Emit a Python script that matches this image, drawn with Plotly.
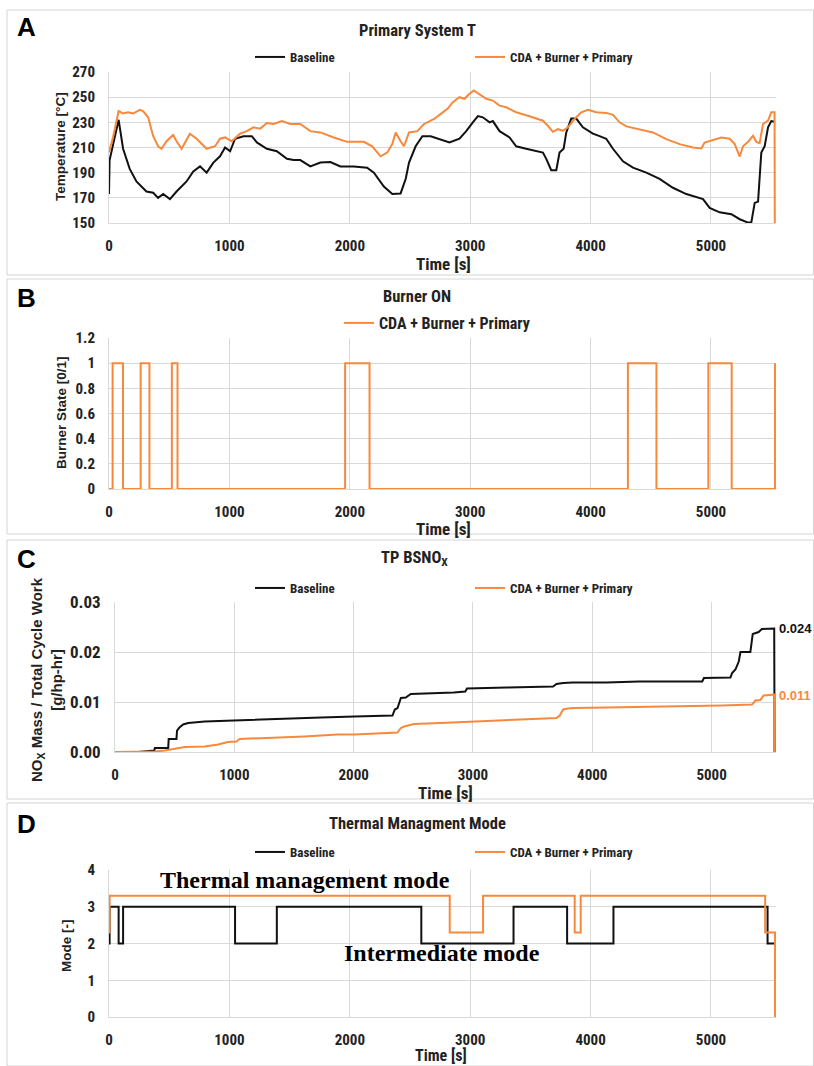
import plotly.graph_objects as go

# ---------------- DATA ----------------
# Panel A: Primary System T
a_time_base = [0, 5, 40, 80, 117, 172, 228, 311, 367, 408, 450, 506, 561, 644, 700, 756, 811, 867, 922, 964,
               1006, 1047, 1117, 1186, 1228, 1311, 1394, 1478, 1533, 1589, 1672, 1756, 1839, 1922, 2033, 2144,
               2200, 2283, 2353, 2422, 2464, 2492, 2547, 2603, 2672, 2728, 2828, 2911, 2967, 3022, 3064, 3105,
               3161, 3188, 3244, 3327, 3382, 3465, 3548, 3604, 3632, 3673, 3715, 3742, 3776, 3798, 3839, 3881,
               3936, 4019, 4075, 4130, 4186, 4269, 4352, 4463, 4573, 4684, 4795, 4934, 4989, 5072, 5169, 5239,
               5308, 5335, 5363, 5391, 5418, 5446, 5474, 5501, 5530]
a_temp_base = [173, 200, 215, 232, 209, 193, 183, 175, 174, 170, 173, 169, 175, 183, 191, 195, 190, 198, 203, 210,
               207, 217, 219, 219, 214, 209, 207, 201, 200, 200, 195, 198, 198.5, 195, 195, 194,
               190, 179, 173, 173.5, 185, 198, 211, 219, 219, 217, 214, 217, 223, 230, 235, 234,
               230, 231, 223, 218, 211, 209, 207, 206, 201, 192, 192, 206, 209, 222, 233, 233,
               226, 221, 219, 217, 209, 199, 194, 190, 185, 178, 173, 169, 162, 158.5, 157, 153,
               150.3, 150.5, 166, 167, 206, 211, 226, 231, 230.5]
a_time_cda = [0, 33, 80, 117, 158, 200, 256, 283, 325, 367, 408, 436, 478, 533, 561, 603, 672, 728, 811, 881,
              922, 964, 1019, 1089, 1144, 1200, 1256, 1311, 1367, 1436, 1506, 1589, 1672, 1756, 1867, 1978,
              2117, 2186, 2256, 2311, 2353, 2381, 2422, 2450, 2492, 2561, 2617, 2700, 2756, 2811, 2856, 2911,
              2953, 2994, 3030, 3078, 3133, 3188, 3244, 3299, 3382, 3493, 3604, 3645, 3687, 3729, 3770, 3812,
              3867, 3922, 3978, 4047, 4130, 4186, 4241, 4297, 4407, 4518, 4629, 4740, 4850, 4920, 4947, 5017,
              5086, 5155, 5197, 5239, 5266, 5308, 5349, 5377, 5404, 5432, 5474, 5501, 5528, 5530]
a_temp_cda = [206, 218, 239, 237, 238, 237, 240, 239, 234, 219, 211, 209, 215, 220, 215, 209, 221, 217, 209, 211,
              217, 218, 215, 221, 223, 226, 225, 229.5, 228.7, 231, 228.7, 228.7, 223, 222, 218, 214.5,
              214.5, 211, 203, 206, 212.7, 222, 215, 211, 222, 223, 228.7, 232.7, 236.7, 240.7, 246, 250,
              248.7, 252.7, 255.3, 252, 248.7, 247.3, 243.3, 242, 238, 234.8, 231.3, 227.3, 222.5, 224.7, 223.3, 226,
              232.7, 238, 240, 238, 237.5, 236, 230, 226.8, 224.7, 222, 216.7, 212.7, 210, 209.2, 214, 216,
              218, 217, 212.7, 202.8, 211, 214.5, 219.3, 214.5, 213.5, 228.7, 231.3, 238, 238, 150]

# Panel B: Burner ON (state changes)
b_time = [0, 30, 116, 263, 336, 522, 569, 1961, 2164, 4310, 4547, 4978, 5172, 5532]
b_state = [0, 1, 0, 1, 0, 1, 0, 1, 0, 1, 0, 1, 0, 1]

# Panel C: TP BSNOx cumulative
c_time_base = [0, 195, 330, 334, 446, 450, 515, 520, 540, 571, 613, 752, 997, 1309, 1727, 2006, 2326, 2345,
               2368, 2396, 2437, 2479, 2702, 2839, 2936, 2950, 3283, 3672, 3700, 3756, 3839, 4117, 4394,
               4922, 4936, 5158, 5172, 5200, 5228, 5242, 5325, 5345, 5394, 5422, 5525, 5528]
c_nox_base = [0, 0, 0.0003, 0.0008, 0.0008, 0.0026, 0.0026, 0.0043, 0.0049, 0.0055, 0.0058, 0.0061, 0.0063,
              0.0066, 0.0069, 0.0071, 0.0073, 0.0085, 0.0088, 0.0108, 0.0109, 0.0116, 0.0117, 0.0119, 0.0121,
              0.0127, 0.0129, 0.0131, 0.0136, 0.0138, 0.0139, 0.0139, 0.0141, 0.0141, 0.0148, 0.0149, 0.0158,
              0.0165, 0.0181, 0.0200, 0.0200, 0.0236, 0.0240, 0.0246, 0.0247, 0]
c_time_cda = [0, 334, 418, 529, 585, 752, 864, 947, 1017, 1045, 1309, 1588, 1866, 2006, 2368, 2396, 2423, 2507,
              2728, 3000, 3283, 3672, 3700, 3728, 3756, 3797, 3839, 4117, 4672, 5089, 5339, 5367, 5408, 5436,
              5525, 5528]
c_nox_cda = [0, 0.0001, 0.0003, 0.0007, 0.0010, 0.0011, 0.0015, 0.0020, 0.0021, 0.0026, 0.0028, 0.0031, 0.0035,
             0.0035, 0.0039, 0.0048, 0.0051, 0.0056, 0.0058, 0.0061, 0.0063, 0.0067, 0.0068, 0.0073, 0.0085,
             0.0087, 0.0088, 0.0089, 0.0091, 0.0093, 0.0095, 0.0103, 0.0104, 0.0113, 0.0115, 0]
c_end_labels = ["0.024", "0.011"]
c_end_values = [0.0247, 0.0114]

# Panel D: Thermal management mode (state changes)
d_time_base = [0, 5, 80, 117, 1047, 1394, 2594, 3360, 3805, 4190, 5470, 5530]
d_mode_base = [2, 3, 2, 3, 2, 3, 2, 3, 2, 3, 2, 2]
d_time_cda = [0, 5, 2830, 3107, 3868, 3918, 5450, 5532]
d_mode_cda = [2.3, 3.3, 2.3, 3.3, 2.3, 3.3, 2.3, 0]

x_ticks = [0, 1000, 2000, 3000, 4000, 5000]
a_y_ticks = [150, 170, 190, 210, 230, 250, 270]
b_y_ticks = [0, 0.2, 0.4, 0.6, 0.8, 1, 1.2]
c_y_ticks = [0, 0.01, 0.02, 0.03]
d_y_ticks = [0, 1, 2, 3, 4]

# ---------------- STYLE ----------------
W, H = 814, 1066
def px(x):
    return x / W
def py(y):
    return 1 - y / H

BLACK = "#111111"
ORANGE = "#F7893C"
GRID = "#D9D9D9"
TXT = "#222222"
NARROW = "Liberation Sans Narrow, Arial Narrow, Roboto Condensed, Liberation Sans, sans-serif"
WIDE = "Liberation Sans, Arial, sans-serif"
SERIF = "Liberation Serif, Times New Roman, serif"
X_MAX = 5540

fig = go.Figure()

def line(x, y, color, name, xa, ya, leg, show=True, shape="linear"):
    fig.add_trace(go.Scatter(x=x, y=y, mode="lines", name=name,
                             line=dict(color=color, width=2, shape=shape),
                             xaxis=xa, yaxis=ya, legend=leg, showlegend=show,
                             hoverinfo="skip"))

line(a_time_base, a_temp_base, BLACK, "Baseline", "x", "y", "legend")
line(a_time_cda, a_temp_cda, ORANGE, "CDA + Burner + Primary", "x", "y", "legend")
line(b_time, b_state, ORANGE, "CDA + Burner + Primary", "x2", "y2", "legend2", shape="hv")
line(c_time_base, c_nox_base, BLACK, "Baseline", "x3", "y3", "legend3")
line(c_time_cda, c_nox_cda, ORANGE, "CDA + Burner + Primary", "x3", "y3", "legend3")
line(d_time_base, d_mode_base, BLACK, "Baseline", "x4", "y4", "legend4", shape="hv")
line(d_time_cda, d_mode_cda, ORANGE, "CDA + Burner + Primary", "x4", "y4", "legend4", shape="hv")

def xax(l, r, anchor, size=15):
    return dict(domain=[px(l), px(r)], anchor=anchor, range=[0, X_MAX], tickvals=x_ticks,
                showgrid=True, gridcolor=GRID, gridwidth=1, zeroline=False, automargin=False,
                showline=True, linecolor=GRID, linewidth=1, ticks="",
                ticklabelstandoff=9,
                tickfont=dict(family=NARROW, size=size, color=TXT, weight="bold"))

def yax(t, b, anchor, rng, ticks, size=15, fmt=None):
    d = dict(domain=[py(b), py(t)], anchor=anchor, range=rng, tickvals=ticks,
             showgrid=True, gridcolor=GRID, gridwidth=1, zeroline=False, automargin=False,
             showline=True, linecolor=GRID, linewidth=1, ticks="",
             ticklabelstandoff=10,
             tickfont=dict(family=NARROW, size=size, color=TXT, weight="bold"))
    if fmt:
        d["tickformat"] = fmt
    return d

def legend(x0, y0, size=13):
    return dict(orientation="h", x=px(x0), xanchor="left", y=py(y0), yanchor="middle",
                entrywidth=175, entrywidthmode="pixels", bgcolor="rgba(0,0,0,0)",
                font=dict(family=NARROW, size=size, color=TXT, weight="bold"))

fig.update_layout(
    width=W, height=H, margin=dict(l=0, r=0, t=0, b=0, autoexpand=False),
    paper_bgcolor="white", plot_bgcolor="white",
    xaxis=xax(109, 776, "y"), yaxis=yax(72, 223, "x", [150, 270.01], a_y_ticks),
    xaxis2=xax(109, 776, "y2"), yaxis2=yax(338, 489, "x2", [0, 1.2001], b_y_ticks),
    xaxis3=xax(115, 776, "y3"), yaxis3=yax(602, 752, "x3", [0, 0.03001], c_y_ticks, size=17, fmt=".2f"),
    xaxis4=xax(109, 776, "y4"), yaxis4=yax(870, 1017, "x4", [0, 4.001], d_y_ticks),
    legend=legend(250, 57), legend2=legend(339, 323, 16),
    legend3=legend(250, 588), legend4=legend(250, 852),
    showlegend=True,
)

# panel frames
frames = [(7, 10, 275), (7, 279, 534), (7, 540, 799), (7, 803, 1066)]
for x0, y0, y1 in frames:
    fig.add_shape(type="rect", xref="paper", yref="paper", x0=px(x0), x1=px(813.5),
                  y0=py(y1), y1=py(y0), line=dict(color="#D4D4D4", width=1), layer="below")

def ann(x, y, text, size, family=NARROW, color=TXT, weight="bold", angle=0, xanchor="center"):
    fig.add_annotation(x=px(x), y=py(y), xref="paper", yref="paper", text=text, showarrow=False,
                       textangle=angle, xanchor=xanchor, yanchor="middle",
                       font=dict(family=family, size=size, color=color, weight=weight))

# panel letters
for letter, y in [("A", 27), ("B", 298), ("C", 559), ("D", 824)]:
    ann(27, y, letter, 26, family=WIDE, color="#000000")

# titles
ann(417, 30, "Primary System T", 16.5)
ann(417, 296, "Burner ON", 16.5)
ann(414, 558, "TP BSNO<sub>X</sub>", 16.5)
ann(417, 823, "Thermal Managment Mode", 16.5)

# axis titles
ann(443, 264, "Time [s]", 17)
ann(443, 529, "Time [s]", 17)
ann(445, 793, "Time [s]", 17)
ann(441, 1055, "Time [s]", 16)
ann(60, 147, "Temperature [°C]", 13.5, family=WIDE, angle=-90)
ann(62, 413, "Burner State [0/1]", 13.5, family=WIDE, angle=-90)
ann(46, 680, "NO<sub>X</sub> Mass / Total Cycle Work<br>[g/hp-hr]", 15, family=WIDE, angle=-90)
ann(66, 946, "Mode [-]", 13.5, family=WIDE, angle=-90)

# end-value labels on panel C (sized to fit inside the page)
for lab, v, col in zip(c_end_labels, c_end_values, [BLACK, ORANGE]):
    fig.add_annotation(x=X_MAX, y=v, xref="x3", yref="y3", text=lab, showarrow=False,
                       xanchor="left", yanchor="middle", xshift=1,
                       font=dict(family=WIDE, size=13, color=col, weight="bold"))

# mode labels on panel D
ann(305, 880, "Thermal management mode", 24, family=SERIF, color="#000000")
ann(442, 953, "Intermediate mode", 24, family=SERIF, color="#000000")

PIN_PAGE = ("document.documentElement.style.margin='0';document.documentElement.style.overflow='hidden';"
            "document.body.style.margin='0';document.body.style.padding='0';document.body.style.overflow='hidden';"
            "var g=document.querySelector('.plotly-graph-div');"
            "g.style.position='fixed';g.style.top='0px';g.style.left='0px';")

fig.write_html("out.html", config={"displayModeBar": False, "staticPlot": True}, post_script=PIN_PAGE)
